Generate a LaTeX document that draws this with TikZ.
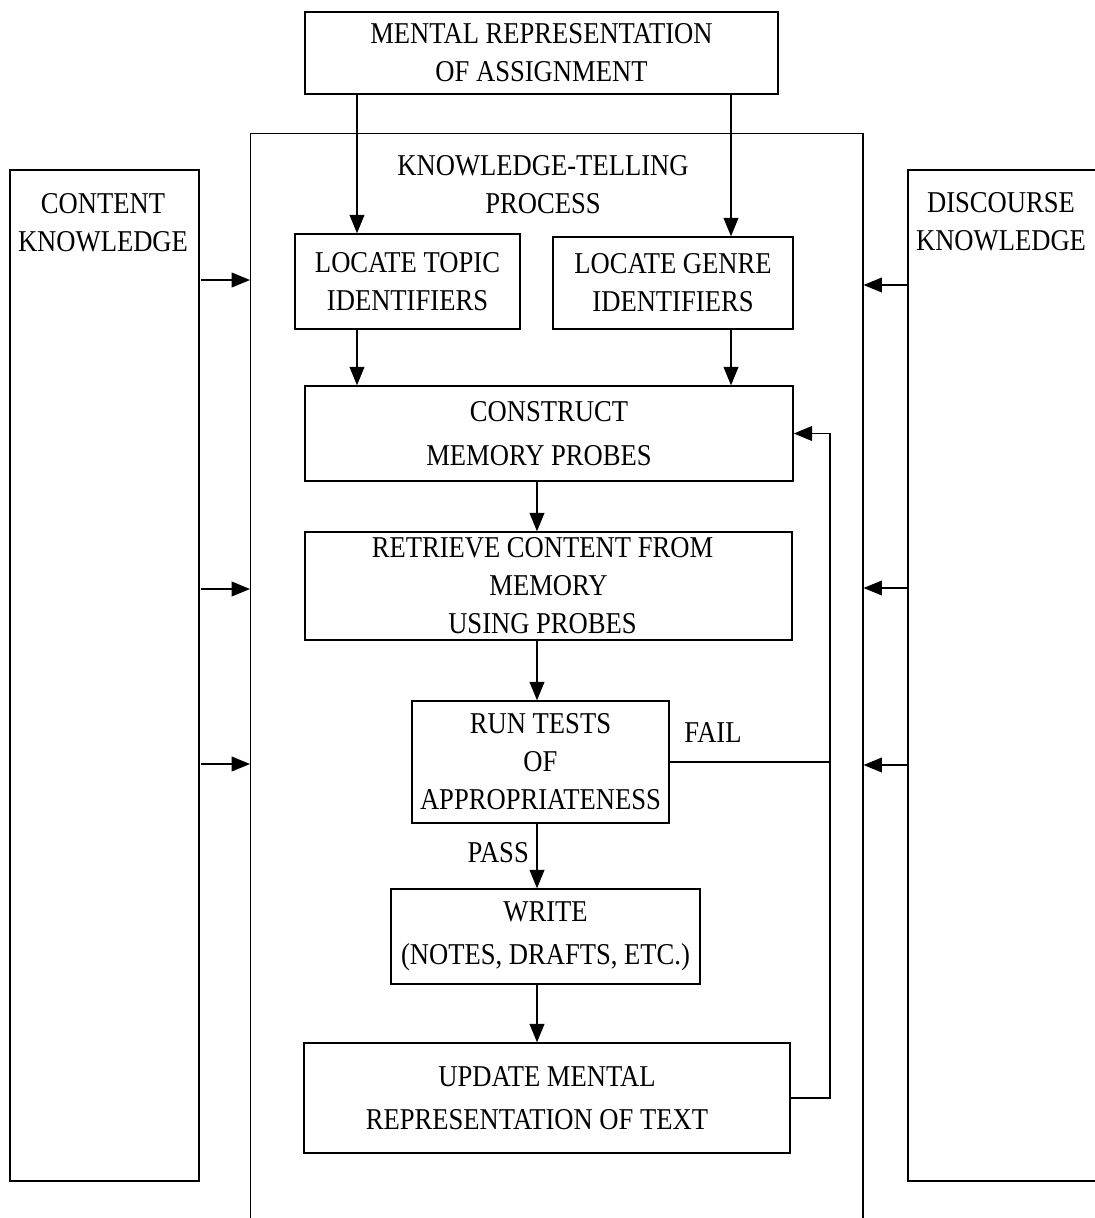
\documentclass[tikz,border=0pt]{standalone}
\usepackage{fontspec}
\setmainfont{Liberation Serif}[FakeStretch=0.88]
\usetikzlibrary{arrows.meta}
\tikzset{
  box/.style={draw, line width=1pt, align=center, inner sep=0pt},
  txt/.style={align=center, inner sep=0pt},
  arr/.style={line width=1pt, -{Triangle[length=4.6mm,width=3.7mm]}}
}
\begin{document}
\begin{tikzpicture}[x=0.025cm, y=-0.025cm, font=\fontsize{21.5}{27}\selectfont]
  \useasboundingbox (0,0) rectangle (1094,1218);
  \coordinate (xl) at (357,0);
  \coordinate (xr) at (731,0);
  \coordinate (xc) at (537,0);
  \coordinate (fb) at (830,0);

  \node[box, minimum width=11.825cm, minimum height=2.05cm] (mra) at (541.5,53) {MENTAL REPRESENTATION\\OF ASSIGNMENT};
  \node[box, minimum width=15.3cm, minimum height=27.8cm, anchor=north west] (ktp) at (250,133) {};
  \node[txt] (ktptitle) at (543,185) {KNOWLEDGE-TELLING\\PROCESS};
  \node[box, minimum width=4.725cm, minimum height=25.275cm] (ck) at (104.5,675.5) {};
  \node[txt] (cktitle) at (103,223) {CONTENT\\KNOWLEDGE};
  \node[box, minimum width=5.05cm, minimum height=25.275cm] (dk) at (1009,675.5) {};
  \node[txt] (dktitle) at (1001,222) {DISCOURSE\\KNOWLEDGE};

  \node[box, minimum width=5.625cm, minimum height=2.375cm] (topic) at (407.5,281.5) {LOCATE TOPIC\\IDENTIFIERS};
  \node[box, minimum width=6cm, minimum height=2.3cm] (genre) at (673,283) {LOCATE GENRE\\IDENTIFIERS};
  \node[box, minimum width=12.2cm, minimum height=2.375cm] (probes) at (549,433.5) {CONSTRUCT\\[4pt]MEMORY PROBES\hspace*{0.5cm}};
  \node[box, minimum width=12.175cm, minimum height=2.7cm] (retrieve) at (548.5,586) {RETRIEVE CONTENT FROM\hspace*{0.3cm}\\MEMORY\hspace*{0.3cm}\\USING PROBES\hspace*{0.3cm}};
  \node[box, minimum width=6.425cm, minimum height=3.05cm] (tests) at (540.5,762) {RUN TESTS\\OF\\APPROPRIATENESS};
  \node[box, minimum width=7.725cm, minimum height=2.375cm] (write) at (545.5,936.5) {WRITE\\[4pt](NOTES, DRAFTS, ETC.)};
  \node[box, minimum width=12.15cm, minimum height=2.75cm] (update) at (547,1098) {UPDATE MENTAL\\[4pt]REPRESENTATION OF TEXT\hspace*{0.5cm}};

  \draw[arr] (mra.south -| xl) -- (topic.north -| xl);
  \draw[arr] (mra.south -| xr) -- (genre.north -| xr);
  \draw[arr] (topic.south -| xl) -- (probes.north -| xl);
  \draw[arr] (genre.south -| xr) -- (probes.north -| xr);
  \draw[arr] (probes.south -| xc) -- (retrieve.north -| xc);
  \draw[arr] (retrieve.south -| xc) -- (tests.north -| xc);
  \draw[arr] (tests.south -| xc) -- node[left=2pt, pos=0.45] (pass) {PASS} (write.north -| xc);
  \draw[arr] (write.south -| xc) -- (update.north -| xc);
  \draw[line width=1pt] (tests.east) -- node[above=10pt, pos=0.27] (fail) {FAIL} (tests.east -| fb);
  \draw[arr] (update.east) -- (update.east -| fb) |- (probes.east);

  \foreach \y in {280,589,764} {
    \path (0,\y) coordinate (t);
    \draw[arr] ([xshift=1pt]ck.east |- t) -- (ktp.west |- t);
  }
  \foreach \y in {285,588,765} {
    \path (0,\y) coordinate (t);
    \draw[arr] (dk.west |- t) -- (ktp.east |- t);
  }
\end{tikzpicture}
\end{document}
